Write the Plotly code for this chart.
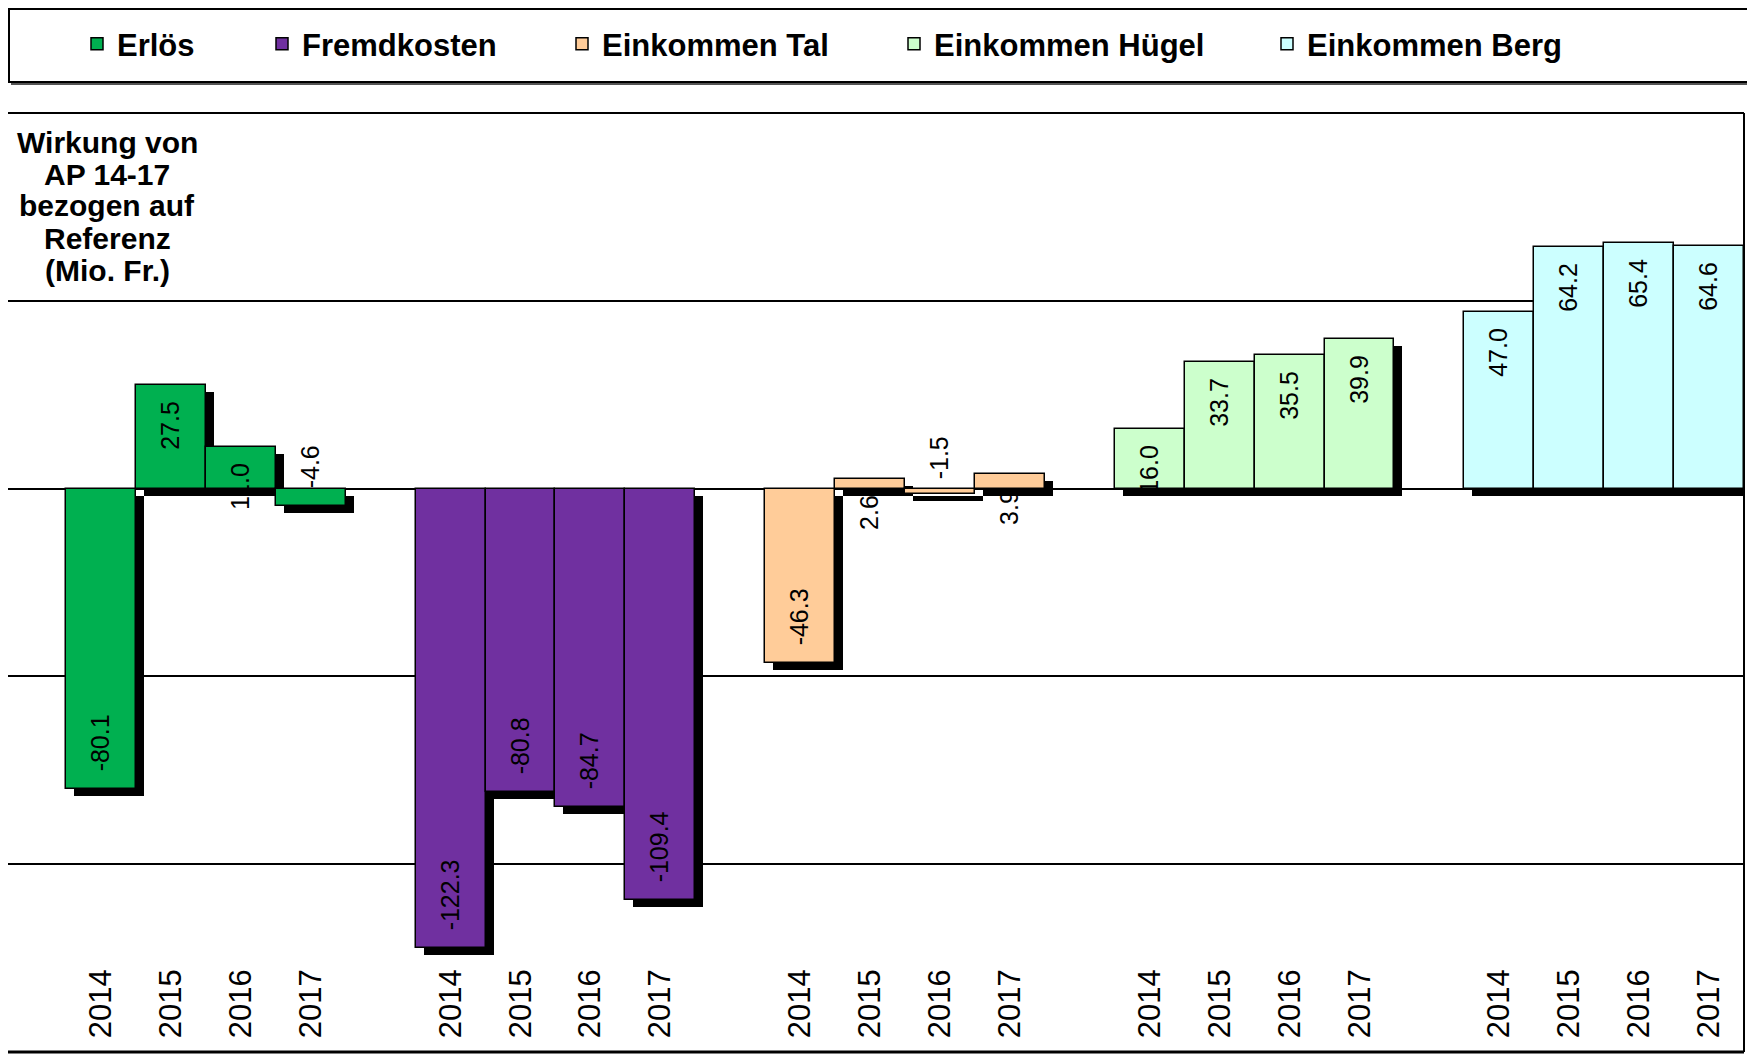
import plotly.graph_objects as go

# ---------------- data ----------------
series_names = ["Erlös", "Fremdkosten", "Einkommen Tal", "Einkommen Hügel", "Einkommen Berg"]
years = ["2014", "2015", "2016", "2017"]
erloes = [-80.1, 27.5, 11.0, -4.6]
fremdkosten = [-122.3, -80.8, -84.7, -109.4]
einkommen_tal = [-46.3, 2.6, -1.5, 3.9]
einkommen_huegel = [16.0, 33.7, 35.5, 39.9]
einkommen_berg = [47.0, 64.2, 65.4, 64.6]
title_lines = ["Wirkung von", "AP 14-17", "bezogen auf", "Referenz", "(Mio. Fr.)"]

colors = ["#00B050", "#7030A0", "#FFCC99", "#CCFFCC", "#CCFFFF"]
all_values = [erloes, fremdkosten, einkommen_tal, einkommen_huegel, einkommen_berg]

# ---------------- layout constants (page pixel targets) ----------------
OFF = 8                      # page body margin
PAGE_W, PAGE_H = 1755, 1062
W, H = PAGE_W - OFF, PAGE_H - OFF
PLOT_TOP, PLOT_BOTTOM, PLOT_RIGHT = 113, 1052, 1744
M_L, M_R, M_T, M_B = 0, PAGE_W - PLOT_RIGHT, PLOT_TOP - OFF, PAGE_H - PLOT_BOTTOM
PLOT_W = W - M_L - M_R
PLOT_H = H - M_T - M_B
Y_MIN, Y_MAX = -150, 100
SLOT = 69.9
FIRST_BAR_LEFT = 66
X_MAX = 23.5
X_MIN = -0.5 - (FIRST_BAR_LEFT - OFF) / SLOT
FONT = "Arial, Liberation Sans, sans-serif"
NB = "\u00a0\u00a0"

px_per_y = PLOT_H / (Y_MAX - Y_MIN)
px_per_x = PLOT_W / (X_MAX - X_MIN)
shadow_dy = 7 / px_per_y
shadow_dx = 8 / px_per_x


def paper_x(page_x):
    return (page_x - OFF - M_L) / PLOT_W


def paper_y(page_y):
    return (PLOT_BOTTOM - page_y) / PLOT_H


fig = go.Figure()

positions_all = []
for g, vals in enumerate(all_values):
    xs = [5 * g + i for i in range(len(years))]
    positions_all += xs
    fig.add_trace(go.Bar(
        x=xs, y=vals, base=[-shadow_dy] * len(vals),
        width=1, offset=-0.5 + shadow_dx,
        marker=dict(color="black", line=dict(width=0)),
        showlegend=False, hoverinfo="skip",
    ))

for g, vals in enumerate(all_values):
    xs = [5 * g + i for i in range(len(years))]
    texts = [(f"{v:.1f}" + NB) if v >= 0 else (NB + f"{v:.1f}") for v in vals]
    fig.add_trace(go.Bar(
        x=xs, y=vals, width=1, offset=-0.5,
        name=series_names[g],
        marker=dict(color=colors[g], line=dict(color="black", width=1.5)),
        text=texts, textposition="inside", insidetextanchor="end",
        textangle=-90, constraintext="none",
        textfont=dict(family=FONT, size=25, color="black"),
        legend="legend" if g == 0 else f"legend{g+1}",
    ))

# legends, one per series, positioned like the original (page px of legend left)
legend_page_x = [77, 262, 562, 894, 1267]
legend_page_y = 44
layout_legends = {}
for g, lx in enumerate(legend_page_x):
    key = "legend" if g == 0 else f"legend{g+1}"
    layout_legends[key] = dict(
        x=(lx - OFF) / W, xanchor="left",
        y=1 - (legend_page_y - OFF) / H, yanchor="middle",
        xref="container", yref="container",
        orientation="h", bgcolor="rgba(0,0,0,0)", borderwidth=0,
        font=dict(family=FONT, size=31, color="black", weight="bold"),
    )

shapes = [
    # plot frame (top, right, bottom)
    dict(type="line", xref="paper", yref="paper", x0=paper_x(0), x1=1, y0=1, y1=1,
         line=dict(color="black", width=2)),
    dict(type="line", xref="paper", yref="paper", x0=1, x1=1, y0=0, y1=1,
         line=dict(color="black", width=2)),
    dict(type="line", xref="paper", yref="paper", x0=paper_x(0), x1=1, y0=0, y1=0,
         line=dict(color="black", width=3)),
    # legend box with slight shadow
    dict(type="line", xref="paper", yref="paper", x0=paper_x(11), x1=paper_x(1754), y0=paper_y(84), y1=paper_y(84),
         line=dict(color="#555555", width=2)),
    dict(type="rect", xref="paper", yref="paper", x0=paper_x(9), x1=paper_x(1752), y0=paper_y(82), y1=paper_y(9),
         line=dict(color="black", width=2), fillcolor="rgba(0,0,0,0)"),
]

title_y = [142, 174, 206, 238, 270]
annotations = [
    dict(text=t, xref="paper", yref="paper", x=paper_x(107), y=paper_y(yy),
         xanchor="center", yanchor="middle", showarrow=False,
         font=dict(family=FONT, size=30, color="black", weight="bold"))
    for t, yy in zip(title_lines, title_y)
]

fig.update_layout(
    width=W, height=H,
    margin=dict(l=M_L, r=M_R, t=M_T, b=M_B, autoexpand=False),
    paper_bgcolor="white", plot_bgcolor="white",
    barmode="overlay", bargap=0,
    shapes=shapes, annotations=annotations,
    **layout_legends,
)
fig.update_xaxes(
    range=[X_MIN, X_MAX], tickvals=positions_all, ticktext=years * len(series_names),
    tickangle=-90, ticklabelposition="inside", ticks="",
    tickfont=dict(family=FONT, size=31, color="black"),
    showgrid=False, zeroline=False, showline=False, fixedrange=True,
)
fig.update_yaxes(
    range=[Y_MIN, Y_MAX], tick0=0, dtick=50, showticklabels=False, ticks="",
    showgrid=True, gridcolor="black", gridwidth=1.5,
    zeroline=True, zerolinecolor="black", zerolinewidth=2,
    showline=False, fixedrange=True,
)

fig.write_html("out.html")
